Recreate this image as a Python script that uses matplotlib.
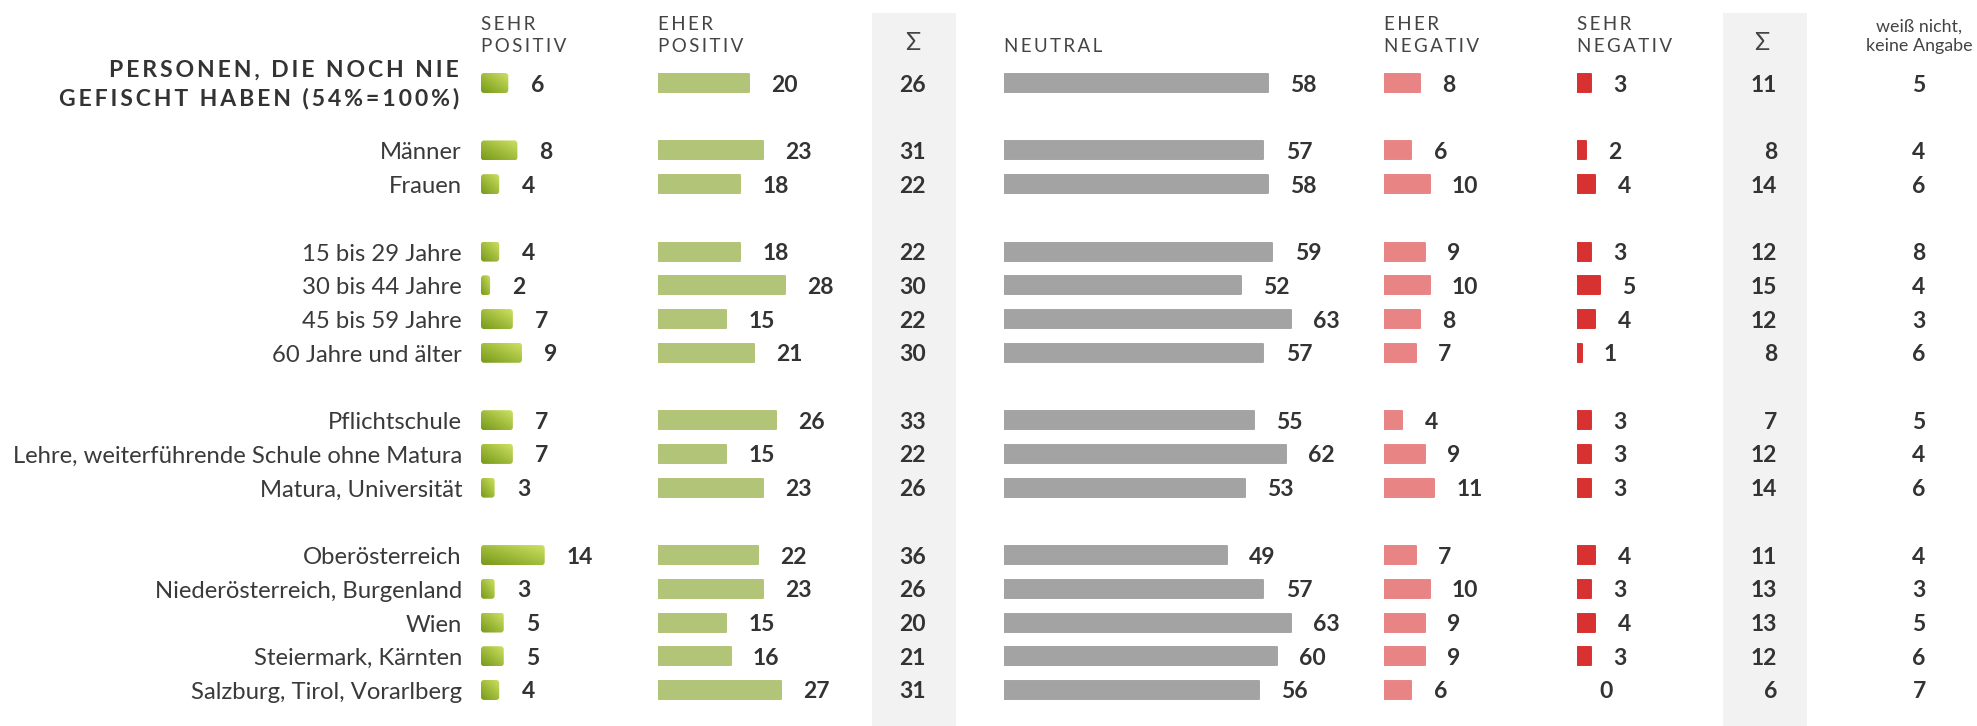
#!/usr/bin/env python3

import matplotlib
matplotlib.use("Agg")
import matplotlib.pyplot as plt
import numpy as np
from matplotlib.patches import FancyBboxPatch, Rectangle

plt.rcParams['font.family'] = ['Lato', 'DejaVu Sans']

title = ["PERSONEN, DIE NOCH NIE", "GEFISCHT HABEN (54%=100%)"]
categories = ["", "Männer", "Frauen",
              "15 bis 29 Jahre", "30 bis 44 Jahre", "45 bis 59 Jahre", "60 Jahre und älter",
              "Pflichtschule", "Lehre, weiterführende Schule ohne Matura", "Matura, Universität",
              "Oberösterreich", "Niederösterreich, Burgenland", "Wien", "Steiermark, Kärnten",
              "Salzburg, Tirol, Vorarlberg"]
groups = [1, 2, 4, 3, 5]

sehr_pos = [6, 8, 4, 4, 2, 7, 9, 7, 7, 3, 14, 3, 5, 5, 4]
eher_pos = [20, 23, 18, 18, 28, 15, 21, 26, 15, 23, 22, 23, 15, 16, 27]
sum_pos = [26, 31, 22, 22, 30, 22, 30, 33, 22, 26, 36, 26, 20, 21, 31]
neutral = [58, 57, 58, 59, 52, 63, 57, 55, 62, 53, 49, 57, 63, 60, 56]
eher_neg = [8, 6, 10, 9, 10, 8, 7, 4, 9, 11, 7, 10, 9, 9, 6]
sehr_neg = [3, 2, 4, 3, 5, 4, 1, 3, 3, 3, 4, 3, 4, 3, 0]
sum_neg = [11, 8, 14, 12, 15, 12, 8, 7, 12, 14, 11, 13, 13, 12, 6]
weiss_nicht = [5, 4, 6, 8, 4, 3, 6, 5, 4, 6, 4, 3, 5, 6, 7]

W, H = 1977, 726
PX = 4.55          # pixels per percent point
ROW0, ROW = 83, 33.72
BAR_H = 18
TXT = '#333333'
FS_LAB = 17.2
FS_NUM = 16.5
NUM_DY = 8.5       # baseline below row centre, pixels

def spaced(s):
  return '\u2009'.join(s)

def row_y():
  ys, slot = [], 0
  for n in groups:
    for i in range(n):
      ys.append(ROW0 + slot*ROW)
      slot += 1
    slot += 1
  return np.array(ys)

def col_axes(fig, x0, width):
  ax = fig.add_axes([x0/W, 0, width/W, 1])
  ax.axis('off')
  return ax

def fix_limits(ax, width):
  ax.set_xlim(0, width/PX)
  ax.set_ylim(H, 0)

def value_labels(ax, y, vals):
  for yy, v in zip(y, vals):
    ax.annotate(str(v), (v, yy), xytext=(16, -NUM_DY*0.72), textcoords='offset points',
                ha='left', va='baseline', fontsize=FS_NUM, fontweight='bold',
                color=TXT, annotation_clip=False)

def solid_bars(ax, y, vals, color, width=360):
  bars = ax.barh(y, vals, height=BAR_H, color=color, edgecolor=color,
                 linewidth=1.4, joinstyle='round')
  for b, v in zip(bars, vals):
    if v == 0:
      b.set_visible(False)
  value_labels(ax, y, vals)
  fix_limits(ax, width)

def gradient_bars(ax, y, vals, width=150):
  dark = np.array([0.47, 0.60, 0.10])
  light = np.array([0.80, 0.88, 0.38])
  u, r = np.meshgrid(np.linspace(0, 1, 64), np.linspace(0, 1, 16))
  t = (u + (1 - r)) / 2
  img = dark + (light - dark) * t[..., None]
  bars = ax.barh(y, vals, height=BAR_H + 2, color='none', linewidth=0)
  for b in bars:
    x, yb, w, h = b.get_x(), b.get_y(), b.get_width(), b.get_height()
    if w <= 0:
      continue
    clip = FancyBboxPatch((x, yb), w, h, boxstyle=f"round,pad=0,rounding_size={3/PX}",
                          mutation_aspect=PX, transform=ax.transData)
    im = ax.imshow(img, extent=(x, x + w, yb + h, yb), aspect='auto', interpolation='bilinear')
    im.set_clip_path(clip)
  value_labels(ax, y, vals)
  fix_limits(ax, width)

def header(ax, x, lines, baselines, ha='left', size=13.5):
  for s, yb in zip(lines, baselines):
    ax.text(x, yb, spaced(s), ha=ha, va='baseline', fontsize=size,
            fontweight='normal', color='#444444')

def main():
  fig = plt.figure(figsize=(W/100, H/100), dpi=100)
  base = fig.add_axes([0, 0, 1, 1])
  base.set_xlim(0, W)
  base.set_ylim(H, 0)
  base.axis('off')

  y = row_y()

  # grey sum panels
  for x0 in (872, 1723):
    base.add_patch(Rectangle((x0, 13), 84, H - 13, color='#f2f2f2', lw=0, zorder=0))

  # title and row labels
  for s, yb in zip(title, (77, 105)):
    base.text(459, yb, spaced(s), ha='right', va='baseline', fontsize=16.6,
              fontweight='bold', color=TXT)
  for yy, c in zip(y[1:], categories[1:]):
    base.text(462, yy + 9, c, ha='right', va='baseline', fontsize=FS_LAB, color='#3a3a3a')

  # headers
  header(base, 481, ["SEHR", "POSITIV"], (30, 52))
  header(base, 658, ["EHER", "POSITIV"], (30, 52))
  header(base, 1004, ["NEUTRAL"], (52,))
  header(base, 1384, ["EHER", "NEGATIV"], (30, 52))
  header(base, 1577, ["SEHR", "NEGATIV"], (30, 52))
  for xc in (913, 1762):
    base.text(xc, 50, "\u03a3", ha='center', va='baseline', fontsize=18,
              fontweight='normal', color='#444444')
  base.text(1919, 32, "weiß nicht,", ha='center', va='baseline', fontsize=12.9, color='#444444')
  base.text(1919, 51, "keine Angabe", ha='center', va='baseline', fontsize=12.9, color='#444444')

  # sum and "weiß nicht" columns
  for yy, a, b, c in zip(y, sum_pos, sum_neg, weiss_nicht):
    kw = dict(va='baseline', fontsize=FS_NUM, fontweight='bold', color=TXT)
    base.text(926, yy + NUM_DY, str(a), ha='right', **kw)
    base.text(1777, yy + NUM_DY, str(b), ha='right', **kw)
    base.text(1919, yy + NUM_DY, str(c), ha='center', **kw)

  # bar columns
  gradient_bars(col_axes(fig, 481, 150), y, sehr_pos, 150)
  solid_bars(col_axes(fig, 658, 200), y, eher_pos, '#b2c477', 200)
  solid_bars(col_axes(fig, 1004, 360), y, neutral, '#a3a3a3', 360)
  solid_bars(col_axes(fig, 1384, 150), y, eher_neg, '#e88484', 150)
  solid_bars(col_axes(fig, 1577, 120), y, sehr_neg, '#d83131', 120)

  fig.savefig('out.png', dpi=100)

if __name__ == '__main__':
  main()
